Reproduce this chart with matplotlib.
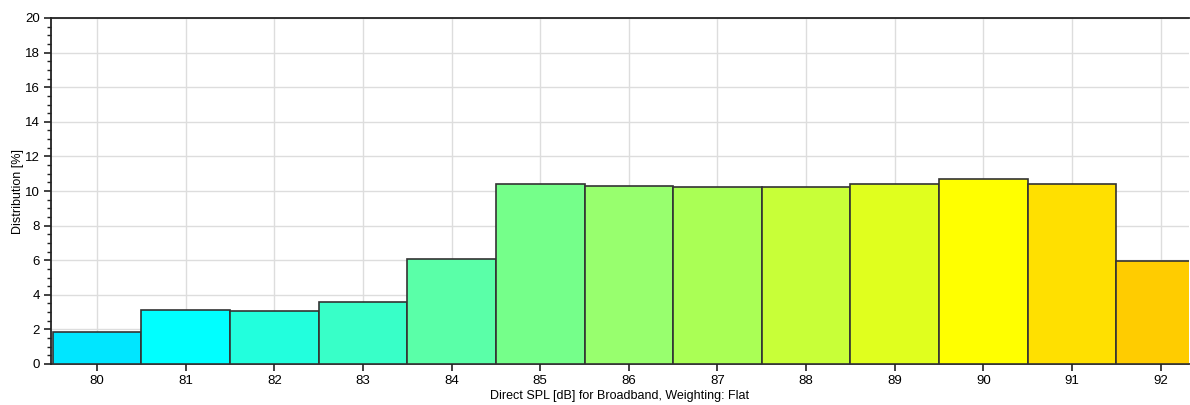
import matplotlib.pyplot as plt
from matplotlib.ticker import MultipleLocator

spl = [80, 81, 82, 83, 84, 85, 86, 87, 88, 89, 90, 91, 92]
dist = [1.85, 3.12, 3.06, 3.58, 6.07, 10.43, 10.29, 10.23, 10.23, 10.43, 10.69, 10.43, 5.95]
colors = ['#00E6FF', '#00FFFF', '#22FFDD', '#38FFC8', '#5AFFA8', '#75FF8A', '#98FF6E',
          '#AAFF55', '#C8FF38', '#E0FF1E', '#FFFF00', '#FFE000', '#FFCC00']

plt.rcParams['font.family'] = ['Liberation Sans', 'DejaVu Sans']
fig = plt.figure(figsize=(11.9, 4.05), dpi=100)
ax = fig.add_axes([51/1190, 1 - 364/405, 1138/1190, 346/405])

ax.bar(spl, dist, width=1.0, color=colors, edgecolor='#333333', linewidth=1.2, zorder=3)

ax.set_xlim(79.48, 92.32)
ax.set_ylim(0, 20)
ax.set_xticks(spl)
ax.yaxis.set_major_locator(MultipleLocator(2))
ax.yaxis.set_minor_locator(MultipleLocator(0.5))
ax.grid(True, which='major', color='#dddddd', linewidth=1, zorder=0)
ax.tick_params(axis='both', which='major', labelsize=9.5, length=5, width=1.2, color='#222222', pad=3)
ax.tick_params(axis='y', which='minor', length=3, width=1, color='#222222')

ax.spines['right'].set_visible(False)
for s in ['left', 'bottom', 'top']:
    ax.spines[s].set_linewidth(1.3)
    ax.spines[s].set_color('#222222')

ax.set_xlabel('Direct SPL [dB] for Broadband, Weighting: Flat', fontsize=9, labelpad=2)
ax.set_ylabel('Distribution [%]', fontsize=9, labelpad=1)

fig.savefig('out.png', dpi=100)
